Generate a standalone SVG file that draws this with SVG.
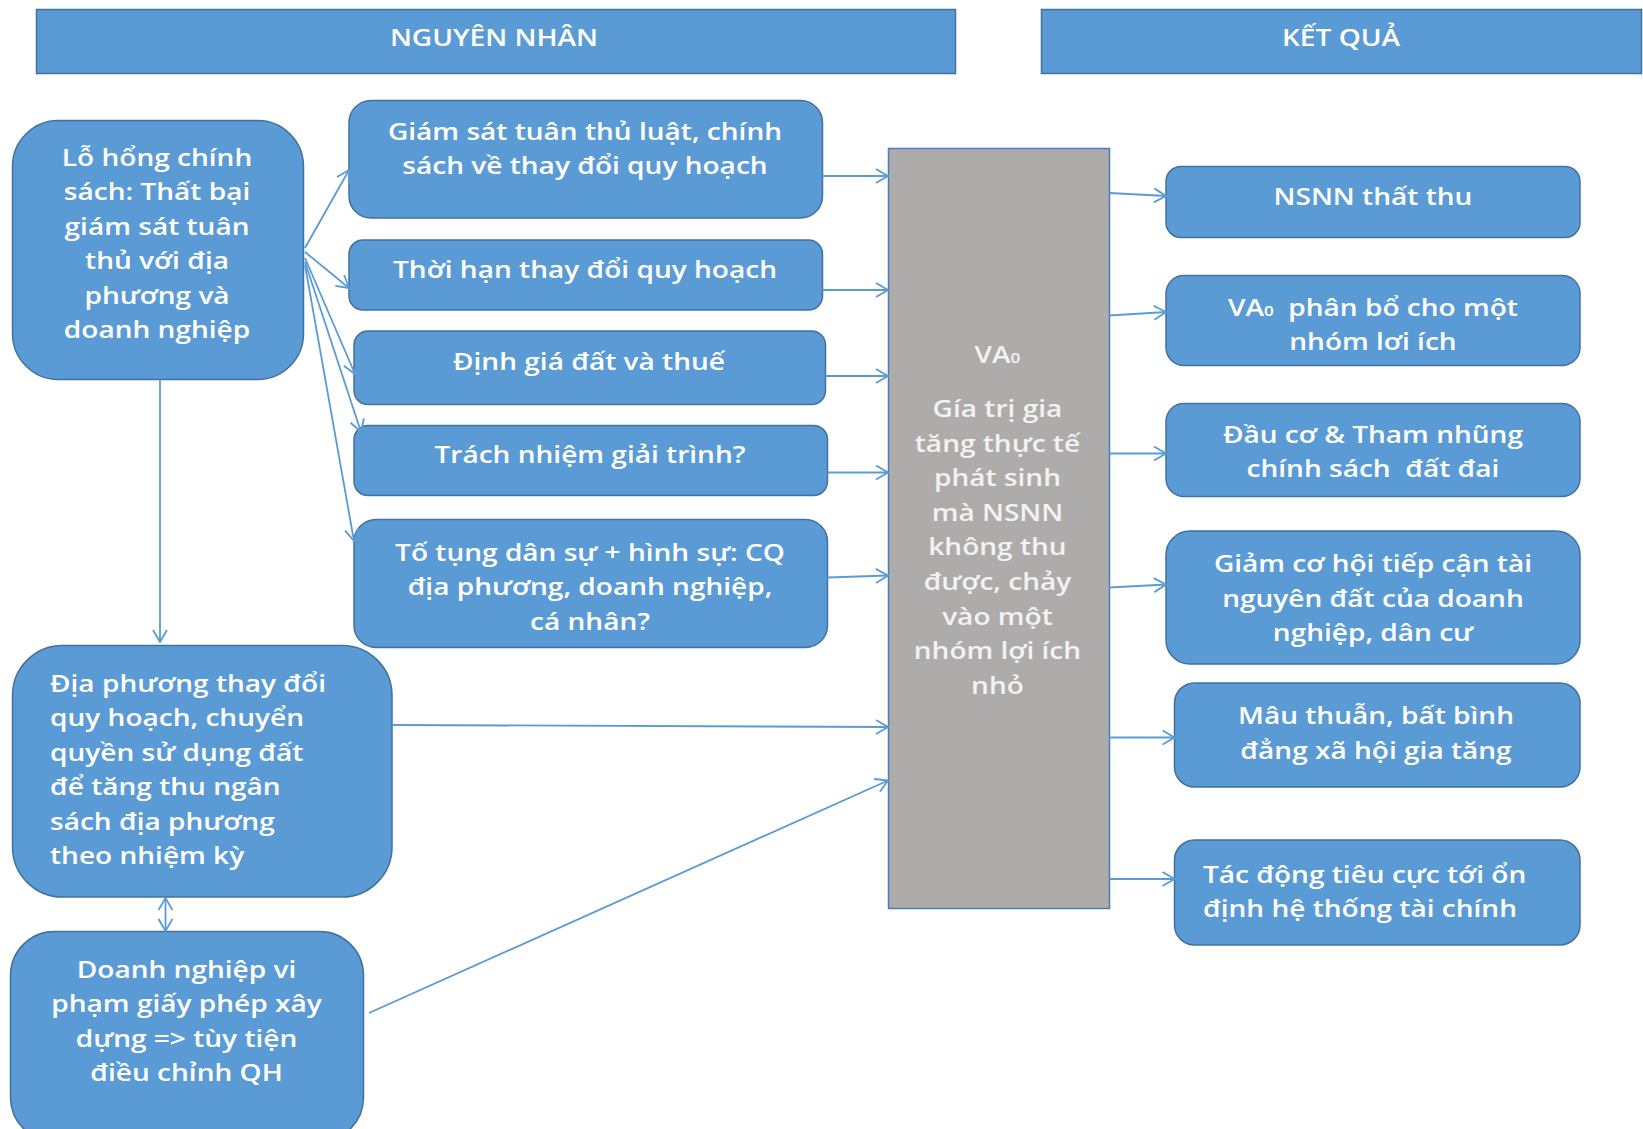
<svg xmlns="http://www.w3.org/2000/svg" width="1643" height="1129" viewBox="0 0 1643 1129">
<style>
.box{fill:#5B9BD5;stroke:#41719C;stroke-width:1.5}
.hdr{fill:#5B9BD5;stroke:#41719C;stroke-width:1.5}
.gray{fill:#AEABAB;stroke:#4A7EBB;stroke-width:1.5}
text{font-family:"Open Sans","DejaVu Sans",sans-serif;font-size:23px;font-weight:600;fill:#FFFFFF;dominant-baseline:central}
.c{text-anchor:middle}
.l{text-anchor:start}
.g{fill:#F2F2F2}
.h{font-size:23px}
.conn line{stroke:#5B9BD5;stroke-width:1.8;fill:none;marker-end:url(#arr)}
</style>
<defs>
<marker id="arr" viewBox="0 0 14 16" refX="13" refY="8" markerWidth="14" markerHeight="16" markerUnits="userSpaceOnUse" orient="auto-start-reverse">
<path d="M1,1 L13,8 L1,15" fill="none" stroke="#5B9BD5" stroke-width="1.8"/>
</marker>
</defs>
<rect width="1643" height="1129" fill="#FFFFFF"/>

<g id="hdr-nguyen-nhan">
<rect class="hdr" x="36.5" y="9.5" width="919" height="64"/>
<g transform="matrix(1.22 0 0 1 -108.7 0)"><text class="c h" x="494" y="37">NGUYÊN NHÂN</text></g>
</g>
<g id="hdr-ket-qua">
<rect class="hdr" x="1041.5" y="9.5" width="600" height="64"/>
<g transform="matrix(1.22 0 0 1 -295.0 0)"><text class="c h" x="1341" y="37">KẾT QUẢ</text></g>
</g>

<g id="n-lo-hong">
<rect class="box" x="12.5" y="120.5" width="291" height="259" rx="46"/>
<g transform="matrix(1.22 0 0 1 -34.5 0)">
<text class="c" x="157" y="157">Lỗ hổng chính</text>
<text class="c" x="157" y="191.6">sách: Thất bại</text>
<text class="c" x="157" y="226">giám sát tuân</text>
<text class="c" x="157" y="260.5">thủ với địa</text>
<text class="c" x="157" y="295">phương và</text>
<text class="c" x="157" y="329.5">doanh nghiệp</text>
</g>
</g>

<g id="n-giam-sat">
<rect class="box" x="349" y="100.5" width="473.5" height="117.5" rx="22"/>
<g transform="matrix(1.22 0 0 1 -128.7 0)">
<text class="c" x="585" y="131">Giám sát tuân thủ luật, chính</text>
<text class="c" x="585" y="165.5">sách về thay đổi quy hoạch</text>
</g>
</g>

<g id="n-thoi-han">
<rect class="box" x="349" y="240" width="473.5" height="70" rx="14"/>
<g transform="matrix(1.22 0 0 1 -128.7 0)">
<text class="c" x="585" y="269">Thời hạn thay đổi quy hoạch</text>
</g>
</g>

<g id="n-dinh-gia">
<rect class="box" x="354" y="331" width="471.5" height="73.5" rx="14"/>
<g transform="matrix(1.22 0 0 1 -129.6 0)">
<text class="c" x="589" y="361.5">Định giá đất và thuế</text>
</g>
</g>

<g id="n-trach-nhiem">
<rect class="box" x="354" y="425.5" width="473.5" height="70" rx="14"/>
<g transform="matrix(1.22 0 0 1 -129.8 0)">
<text class="c" x="590" y="454.5">Trách nhiệm giải trình?</text>
</g>
</g>

<g id="n-to-tung">
<rect class="box" x="354" y="519.5" width="473.5" height="128" rx="22"/>
<g transform="matrix(1.22 0 0 1 -129.8 0)">
<text class="c" x="590" y="552">Tố tụng dân sự + hình sự: CQ</text>
<text class="c" x="590" y="586.8">địa phương, doanh nghiệp,</text>
<text class="c" x="590" y="621.3">cá nhân?</text>
</g>
</g>

<g id="n-dia-phuong">
<rect class="box" x="12.5" y="645.5" width="379.5" height="251.5" rx="50"/>
<g transform="matrix(1.22 0 0 1 -11 0)">
<text class="l" x="50" y="683">Địa phương thay đổi</text>
<text class="l" x="50" y="717.7">quy hoạch, chuyển</text>
<text class="l" x="50" y="752">quyền sử dụng đất</text>
<text class="l" x="50" y="786.5">để tăng thu ngân</text>
<text class="l" x="50" y="821">sách địa phương</text>
<text class="l" x="50" y="855.5">theo nhiệm kỳ</text>
</g>
</g>

<g id="n-doanh-nghiep">
<rect class="box" x="10.5" y="931.5" width="353" height="210" rx="44"/>
<g transform="matrix(1.22 0 0 1 -41.0 0)">
<text class="c" x="186.5" y="969">Doanh nghiệp vi</text>
<text class="c" x="186.5" y="1003.6">phạm giấy phép xây</text>
<text class="c" x="186.5" y="1038">dựng =&gt; tùy tiện</text>
<text class="c" x="186.5" y="1072.5">điều chỉnh QH</text>
</g>
</g>

<g id="n-va0">
<rect class="gray" x="888.5" y="148.5" width="221" height="760"/>
<g transform="matrix(1.22 0 0 1 -219.5 0)">
<text class="c g" x="997.5" y="354">VA<tspan font-size="14" dy="4">0</tspan></text>
<text class="c g" x="997.5" y="408.6">Gía trị gia</text>
<text class="c g" x="997.5" y="443.2">tăng thực tế</text>
<text class="c g" x="997.5" y="477.7">phát sinh</text>
<text class="c g" x="997.5" y="512.3">mà NSNN</text>
<text class="c g" x="997.5" y="546.9">không thu</text>
<text class="c g" x="997.5" y="581.4">được, chảy</text>
<text class="c g" x="997.5" y="616">vào một</text>
<text class="c g" x="997.5" y="650.6">nhóm lợi ích</text>
<text class="c g" x="997.5" y="685.2">nhỏ</text>
</g>
</g>

<g id="n-nsnn">
<rect class="box" x="1166" y="166.5" width="414" height="71" rx="15"/>
<g transform="matrix(1.22 0 0 1 -302.1 0)">
<text class="c" x="1373" y="196">NSNN thất thu</text>
</g>
</g>

<g id="n-phan-bo">
<rect class="box" x="1166" y="275.5" width="414" height="90" rx="18"/>
<g transform="matrix(1.22 0 0 1 -302.1 0)">
<text class="c" x="1373" y="307" xml:space="preserve">VA<tspan font-size="14" dy="4">0</tspan><tspan dy="-4">  phân bổ cho một</tspan></text>
<text class="c" x="1373" y="341.6">nhóm lơi ích</text>
</g>
</g>

<g id="n-dau-co">
<rect class="box" x="1166" y="403.5" width="414" height="93" rx="18"/>
<g transform="matrix(1.22 0 0 1 -302.1 0)">
<text class="c" x="1373" y="434.8">Đầu cơ &amp; Tham nhũng</text>
<text class="c" x="1373" y="468.4" xml:space="preserve">chính sách  đất đai</text>
</g>
</g>

<g id="n-giam-co-hoi">
<rect class="box" x="1166" y="531" width="414" height="133" rx="24"/>
<g transform="matrix(1.22 0 0 1 -302.1 0)">
<text class="c" x="1373" y="563.7">Giảm cơ hội tiếp cận tài</text>
<text class="c" x="1373" y="598.3">nguyên đất của doanh</text>
<text class="c" x="1373" y="632.9">nghiệp, dân cư</text>
</g>
</g>

<g id="n-mau-thuan">
<rect class="box" x="1174.5" y="683" width="405.5" height="104" rx="20"/>
<g transform="matrix(1.22 0 0 1 -302.7 0)">
<text class="c" x="1376" y="715.7">Mâu thuẫn, bất bình</text>
<text class="c" x="1376" y="750.2">đẳng xã hội gia tăng</text>
</g>
</g>

<g id="n-tac-dong">
<rect class="box" x="1174.5" y="840" width="405.5" height="105" rx="20"/>
<g transform="matrix(1.22 0 0 1 -264.7 0)">
<text class="l" x="1203" y="874">Tác động tiêu cực tới ổn</text>
<text class="l" x="1203" y="908.4">định hệ thống tài chính</text>
</g>
</g>

<g id="connectors" class="conn">
<line x1="305" y1="248" x2="349" y2="170"/>
<line x1="305" y1="252" x2="349" y2="288"/>
<line x1="305" y1="258" x2="355" y2="374"/>
<line x1="305" y1="262" x2="361" y2="432"/>
<line x1="305" y1="265" x2="354" y2="541"/>
<line x1="160" y1="379.5" x2="160" y2="642"/>
<line x1="165.5" y1="898" x2="165.5" y2="931" style="marker-start:url(#arr)"/>
<line x1="822.5" y1="176" x2="888" y2="176"/>
<line x1="822.5" y1="290" x2="888" y2="290"/>
<line x1="825.5" y1="376" x2="888" y2="376"/>
<line x1="827.5" y1="472.5" x2="888" y2="472.5"/>
<line x1="827.5" y1="577.5" x2="888" y2="575.5"/>
<line x1="392" y1="725" x2="888" y2="727"/>
<line x1="369" y1="1013" x2="888" y2="780.5"/>
<line x1="1109.5" y1="193" x2="1166" y2="196"/>
<line x1="1109.5" y1="315.5" x2="1166" y2="312"/>
<line x1="1109.5" y1="453.5" x2="1166" y2="453.5"/>
<line x1="1109.5" y1="587.5" x2="1166" y2="584.5"/>
<line x1="1109.5" y1="737.5" x2="1174.5" y2="737.5"/>
<line x1="1109.5" y1="879" x2="1174.5" y2="879"/>
</g>
</svg>
